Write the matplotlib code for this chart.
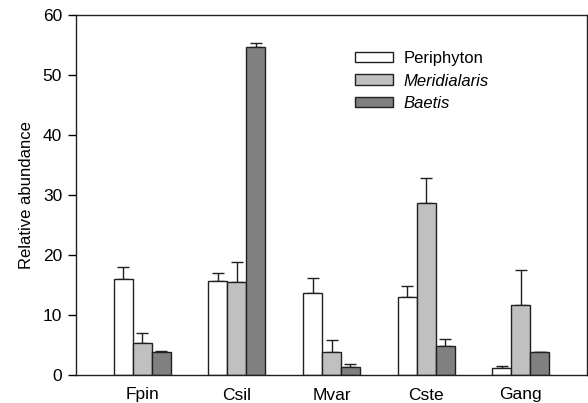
import numpy as np
import matplotlib
matplotlib.use('Agg')
import matplotlib.pyplot as plt

plt.rcParams['font.family'] = ['Liberation Sans', 'DejaVu Sans']

sites = ['Fpin', 'Csil', 'Mvar', 'Cste', 'Gang']
series = ['Periphyton', 'Meridialaris', 'Baetis']
colors = ['white', '#c0c0c0', '#808080']

periphyton = [16.0, 15.6, 13.7, 13.05, 1.22]
periphyton_err = [2.05, 1.35, 2.45, 1.85, 0.22]
meridialaris = [5.3, 15.5, 3.85, 28.7, 11.7]
meridialaris_err = [1.75, 3.3, 2.05, 4.1, 5.85]
baetis = [3.9, 54.7, 1.28, 4.9, 3.78]
baetis_err = [0.05, 0.6, 0.6, 1.15, 0.08]

vals = [periphyton, meridialaris, baetis]
errs = [periphyton_err, meridialaris_err, baetis_err]

fig = plt.figure(figsize=(5.88, 4.03), dpi=100)
ax = fig.add_axes([76/588, 1-375/403, 511/588, 360/403])

x = np.arange(len(sites))
w = 0.2
for i in range(3):
	xs = x + (i-1)*w
	ax.bar(xs, vals[i], w, color=colors[i], edgecolor='#202020', linewidth=1.0, label=series[i], zorder=2)
	# one sided error bars, upward only
	ax.errorbar(xs, vals[i], yerr=[np.zeros(len(sites)), errs[i]], fmt='none', ecolor='#202020', elinewidth=1.0, capsize=4, capthick=1.0, zorder=1)

ax.set_xlim(-0.7, 4.7)
ax.set_ylim(0, 60)
ax.set_yticks(range(0, 61, 10))
ax.set_xticks(x)
ax.set_xticklabels(sites)
ax.tick_params(axis='x', length=0, pad=9, labelsize=12.5)
ax.tick_params(axis='y', direction='out', length=6, width=1, pad=4, labelsize=12.5)
ax.set_ylabel('Relative abundance', fontsize=12, labelpad=6)
for s in ax.spines.values():
	s.set_linewidth(1.0)
	s.set_color('#202020')

leg = ax.legend(loc='upper left', bbox_to_anchor=(0.546, 0.9), frameon=False, fontsize=12,
	handlelength=2.3, handleheight=0.6, handletextpad=0.6, labelspacing=0.45, borderpad=0, borderaxespad=0)
for t in leg.get_texts()[1:]:
	t.set_fontstyle('italic')

fig.savefig('out.png', dpi=100)
